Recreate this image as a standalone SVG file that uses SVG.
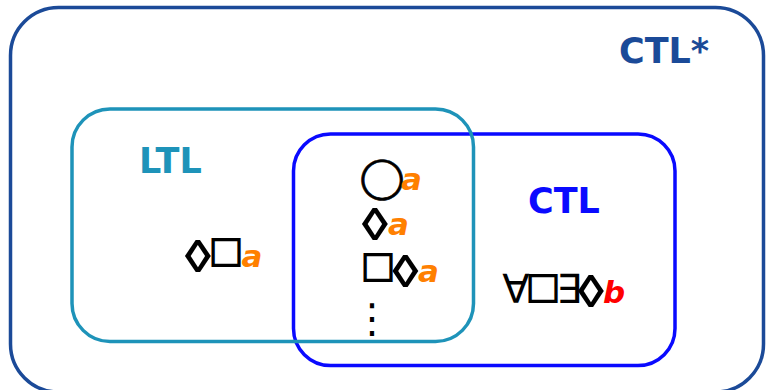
<svg xmlns="http://www.w3.org/2000/svg" width="766" height="390" viewBox="0 0 766 390">
<style>
.box{fill:none;stroke-width:3.5}
.lbl{font-family:"DejaVu Sans",sans-serif;font-weight:bold;font-size:35px}
.s{font-family:Inter,"DejaVu Sans",sans-serif;fill:#000;text-anchor:middle}
.sq{font-size:40px}
.lz{font-size:44px}
.ci{font-size:30px;stroke:#000;stroke-width:0.7}
.q{font-size:40px}
.pa,.pb{font-family:"DejaVu Sans",sans-serif;font-weight:bold;font-style:italic;font-size:31px;text-anchor:middle}
.pa{fill:#ff8000}
.pb{fill:#ff0000}
</style>
<rect width="766" height="390" fill="#fff"/>
<g id="ctlstar">
<rect class="box" x="10.5" y="7.5" width="753" height="384.5" rx="48" stroke="#1b4a98"/>
<text class="lbl" x="619" y="63" fill="#1b4a98">CTL*</text>
</g>
<g id="ctl">
<rect class="box" x="293.5" y="134" width="381.5" height="231.5" rx="37" stroke="#0a0aff" stroke-width="4"/>
<text class="lbl" x="528" y="213" fill="#0a0aff">CTL</text>
<g id="f-ctl">
<text class="s q" x="516" y="303">∀</text>
<text class="s sq" x="543" y="303">□</text>
<text class="s q" x="569" y="303">∃</text>
<text class="s lz" transform="translate(591 307) scale(1.25 1)">◊</text>
<text class="pb" x="614" y="303">b</text>
</g>
</g>
<g id="ltl">
<rect class="box" x="72" y="109" width="401.5" height="232.5" rx="38" stroke="#1e93b9"/>
<text class="lbl" x="139" y="173" fill="#1e93b9">LTL</text>
<g id="f-ltl">
<text class="s lz" transform="translate(198 272) scale(1.25 1)">◊</text>
<text class="s sq" x="226" y="267">□</text>
<text class="pa" x="252" y="267">a</text>
</g>
</g>
<g id="common">
<text class="s ci" x="382" y="191">◯</text>
<text class="pa" x="411.5" y="190">a</text>
<text class="s lz" transform="translate(375 240) scale(1.25 1)">◊</text>
<text class="pa" x="398.5" y="235">a</text>
<text class="s sq" x="378" y="282">□</text>
<text class="s lz" transform="translate(405.5 287) scale(1.25 1)">◊</text>
<text class="pa" x="428.5" y="282">a</text>
<text class="s q" x="372" y="332">⋮</text>
</g>
<g id="connectors"></g>
</svg>
